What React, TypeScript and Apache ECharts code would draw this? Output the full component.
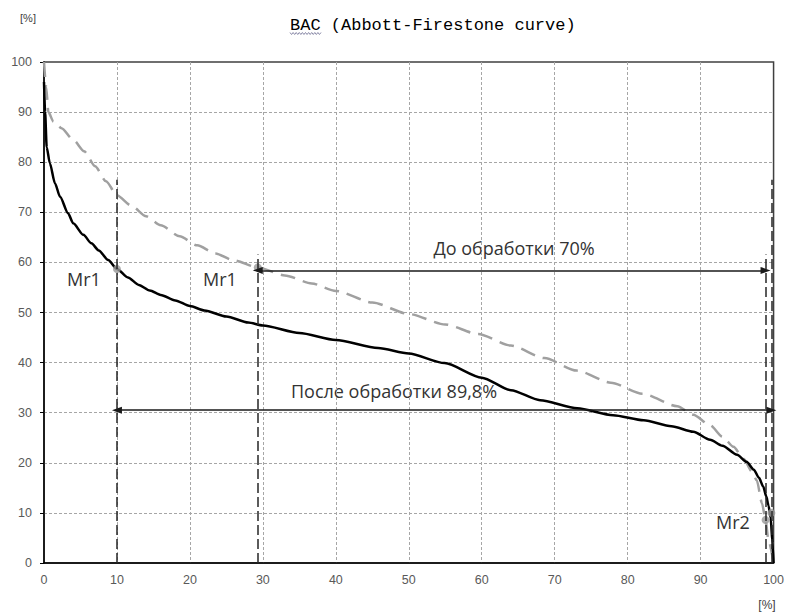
import React, { useEffect, useRef } from "react";
import * as echarts from "echarts";

// Material ratio (x, %) and profile height (y, %) — after treatment (solid black)
const afterX = [0, 0.15, 0.37, 0.8, 1.5, 2.2, 3.3, 4, 5.4, 6.5, 7.5, 8.8, 10, 11.5, 13, 14.5, 16, 18, 20, 22, 25, 28, 30, 35, 40, 45.8, 50, 54.9, 60, 64, 68, 73.1, 78, 82.2, 86, 89, 91.3, 93, 95, 96.3, 97.3, 98, 98.6, 99, 99.3, 99.6, 99.85, 100];
const afterY = [96, 90, 83, 79.8, 75.8, 73.1, 69.8, 67.8, 65.5, 63.8, 62.4, 60.5, 58.7, 57, 55.5, 54.4, 53.5, 52.4, 51.3, 50.4, 49.2, 48, 47.4, 45.9, 44.5, 42.9, 41.8, 39.9, 37, 34.5, 32.5, 30.9, 29.5, 28.5, 27.3, 26.2, 24.6, 23.4, 21.6, 20.2, 18.6, 17, 15.2, 13.3, 11.5, 9, 4, 0];

// Before treatment (dashed gray)
const beforeX = [0, 0.3, 0.6, 1.3, 2.4, 4, 5.5, 7, 8.5, 10, 12, 14, 16, 18.6, 21, 23.5, 26, 29.3, 33, 36.7, 40, 45, 50, 55, 59.5, 64, 68.6, 73, 77.7, 82, 86.8, 89, 91.3, 93, 94.5, 95.9, 97, 97.7, 98.4, 98.9, 99.3, 100];
const beforeY = [100, 95, 90, 88.1, 86.8, 84.5, 82.2, 79.2, 76.2, 73.4, 71.3, 69.2, 67.4, 65.2, 63.4, 61.8, 60.4, 59, 57.4, 55.8, 54.3, 52, 49.7, 47.6, 45.7, 43.4, 40.9, 38.4, 36, 33.8, 31.3, 29.6, 27.5, 25.2, 23.2, 20.8, 18.3, 16.5, 12, 8.6, 4.5, 0];

// Mr1 / Mr2 material ratios
const mrAfter = [10, 99.7];
const mrAfterY = [58.7, 10];
const mrBefore = [29.3, 98.9];
const mrBeforeY = [59, 8.6];
const arrowLevelBefore = 58.4;
const arrowLevelAfter = 30.5;
const mrLineTopBefore = 61.6;
const mrLineTopAfter = 76.5;

const titleText = "BAC (Abbott-Firestone curve)";
const unitText = "[%]";
const mr1Text = "Mr1";
const mr2Text = "Mr2";
const beforeText = "До обработки 70%";
const afterText = "После обработки 89,8%";

export default function App() {
  const ref = useRef<HTMLDivElement>(null);
  useEffect(() => {
    if (!ref.current) return;
    const chart = echarts.init(ref.current, undefined, { renderer: "svg" });
    const afterData = afterX.map((x, i) => [x, afterY[i]]);
    const beforeData = beforeX.map((x, i) => [x, beforeY[i]]);
    const dots = [
      [mrAfter[0], mrAfterY[0]],
      [mrBefore[0], mrBeforeY[0]],
      [mrBefore[1], mrBeforeY[1]],
      [mrAfter[1], mrAfterY[1]],
    ];
    const labelStyle = { fontFamily: "Liberation Sans", fontSize: 12.5, color: "#595959" };
    const splitLine = { show: true, showMinLine: false, showMaxLine: false, lineStyle: { color: "#a6a6a6", type: [3, 2], width: 1 } };
    const vdash = { type: [10, 4], color: "#262626", width: 1.5 };
    const wave: number[][] = [];
    for (let i = 0; i <= 20; i++) wave.push([290 + i * 1.55, i % 2 === 0 ? 32.5 : 34.5]);
    const annText = { fontFamily: "Open Sans", fontSize: 18, fill: "#333" };

    chart.setOption({
      animation: false,
      grid: { left: 44, right: 10, top: 62, bottom: 50, show: true, borderColor: "#404040", borderWidth: 1.5 },
      xAxis: {
        type: "value", min: 0, max: 100, interval: 10,
        axisLine: { show: true, onZero: false, lineStyle: { color: "#000", width: 1.5 } },
        axisTick: { show: false },
        axisLabel: { ...labelStyle, margin: 10 },
        splitLine,
      },
      yAxis: {
        type: "value", min: 0, max: 100, interval: 10,
        axisLine: { show: true, onZero: false, lineStyle: { color: "#000", width: 1.5 } },
        axisTick: { show: true, length: 4, lineStyle: { color: "#000" } },
        axisLabel: { ...labelStyle, margin: 12 },
        splitLine,
      },
      series: [
        {
          type: "line", name: "before", data: beforeData, showSymbol: false, smooth: 0.25, smoothMonotone: "x",
          lineStyle: { color: "#a0a0a0", width: 2.5, type: [15, 8] }, z: 2, silent: true,
          markLine: {
            silent: true, symbol: ["triangle", "triangle"], symbolSize: [7, 10], label: { show: false },
            lineStyle: { color: "#1a1a1a", width: 1.5, type: "solid" },
            data: [
              [{ coord: [mrBefore[0], arrowLevelBefore] }, { coord: [mrBefore[1], arrowLevelBefore] }],
              [{ coord: [mrAfter[0], arrowLevelAfter] }, { coord: [mrAfter[1], arrowLevelAfter] }],
            ],
          },
        },
        {
          type: "line", name: "after", data: afterData, showSymbol: false, smooth: 0.25, smoothMonotone: "x",
          lineStyle: { color: "#000", width: 2.5 }, z: 3, silent: true,
          markLine: {
            silent: true, symbol: ["none", "none"], label: { show: false }, lineStyle: vdash,
            data: [
              [{ coord: [mrAfter[0], 0] }, { coord: [mrAfter[0], mrLineTopAfter] }],
              [{ coord: [mrBefore[0], 0] }, { coord: [mrBefore[0], mrLineTopBefore] }],
              [{ coord: [mrBefore[1], 0] }, { coord: [mrBefore[1], mrLineTopBefore] }],
              [{ coord: [mrAfter[1], 0] }, { coord: [mrAfter[1], mrLineTopAfter] }],
            ],
          },
        },
        {
          type: "scatter", data: dots, symbolSize: 8, itemStyle: { color: "#999" }, z: 4, silent: true,
        },
      ],
      graphic: [
        { type: "text", x: 290, y: 17, style: { text: titleText, fontFamily: "Liberation Mono", fontSize: 17, fill: "#000" } },
        { type: "polyline", shape: { points: wave }, style: { stroke: "#8a8aa8", lineWidth: 1, fill: null } },
        { type: "text", x: 28, y: 18, style: { text: unitText, fontFamily: "Liberation Sans", fontSize: 11, fill: "#404040", align: "center", verticalAlign: "middle" } },
        { type: "text", x: 767, y: 605, style: { text: unitText, fontFamily: "Liberation Sans", fontSize: 12, fill: "#404040", align: "center", verticalAlign: "middle" } },
        { type: "text", x: 84, y: 278.5, style: { text: mr1Text, ...annText, align: "center", verticalAlign: "middle" } },
        { type: "text", x: 220, y: 278.5, style: { text: mr1Text, ...annText, align: "center", verticalAlign: "middle" } },
        { type: "text", x: 733, y: 521.5, style: { text: mr2Text, ...annText, align: "center", verticalAlign: "middle" } },
        { type: "text", x: 514, y: 247.5, style: { text: beforeText, ...annText, align: "center", verticalAlign: "middle" } },
        { type: "text", x: 394, y: 390.5, style: { text: afterText, ...annText, align: "center", verticalAlign: "middle" } },
      ],
    });
    return () => chart.dispose();
  }, []);
  return <div ref={ref} style={{ position: "fixed", left: 0, top: 0, width: 787, height: 613, background: "#fff" }} />;
}
